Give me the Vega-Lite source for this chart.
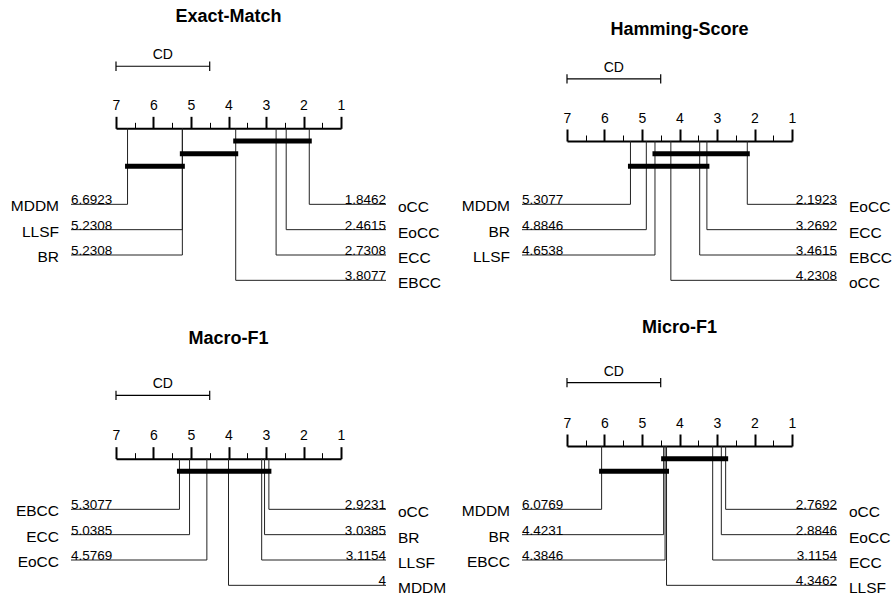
{
  "$schema": "https://vega.github.io/schema/vega-lite/v6.json",
  "background": "white",
  "padding": {"left": 10, "top": 8, "right": 0, "bottom": 0},
  "config": {
    "view": {"stroke": null},
    "font": "Liberation Sans",
    "axis": {"labelOverlap": false, "grid": false},
    "text": {"font": "Liberation Sans", "color": "#000"}
  },
  "datasets": {
    "ranks": [
      {"metric": "Exact-Match", "method": "MDDM", "rank": 6.6923, "side": "left", "row": 1},
      {"metric": "Exact-Match", "method": "LLSF", "rank": 5.2308, "side": "left", "row": 2},
      {"metric": "Exact-Match", "method": "BR", "rank": 5.2308, "side": "left", "row": 3},
      {"metric": "Exact-Match", "method": "oCC", "rank": 1.8462, "side": "right", "row": 1},
      {"metric": "Exact-Match", "method": "EoCC", "rank": 2.4615, "side": "right", "row": 2},
      {"metric": "Exact-Match", "method": "ECC", "rank": 2.7308, "side": "right", "row": 3},
      {"metric": "Exact-Match", "method": "EBCC", "rank": 3.8077, "side": "right", "row": 4},
      {"metric": "Hamming-Score", "method": "MDDM", "rank": 5.3077, "side": "left", "row": 1},
      {"metric": "Hamming-Score", "method": "BR", "rank": 4.8846, "side": "left", "row": 2},
      {"metric": "Hamming-Score", "method": "LLSF", "rank": 4.6538, "side": "left", "row": 3},
      {"metric": "Hamming-Score", "method": "EoCC", "rank": 2.1923, "side": "right", "row": 1},
      {"metric": "Hamming-Score", "method": "ECC", "rank": 3.2692, "side": "right", "row": 2},
      {"metric": "Hamming-Score", "method": "EBCC", "rank": 3.4615, "side": "right", "row": 3},
      {"metric": "Hamming-Score", "method": "oCC", "rank": 4.2308, "side": "right", "row": 4},
      {"metric": "Macro-F1", "method": "EBCC", "rank": 5.3077, "side": "left", "row": 1},
      {"metric": "Macro-F1", "method": "ECC", "rank": 5.0385, "side": "left", "row": 2},
      {"metric": "Macro-F1", "method": "EoCC", "rank": 4.5769, "side": "left", "row": 3},
      {"metric": "Macro-F1", "method": "oCC", "rank": 2.9231, "side": "right", "row": 1},
      {"metric": "Macro-F1", "method": "BR", "rank": 3.0385, "side": "right", "row": 2},
      {"metric": "Macro-F1", "method": "LLSF", "rank": 3.1154, "side": "right", "row": 3},
      {"metric": "Macro-F1", "method": "MDDM", "rank": 4, "side": "right", "row": 4},
      {"metric": "Micro-F1", "method": "MDDM", "rank": 6.0769, "side": "left", "row": 1},
      {"metric": "Micro-F1", "method": "BR", "rank": 4.4231, "side": "left", "row": 2},
      {"metric": "Micro-F1", "method": "EBCC", "rank": 4.3846, "side": "left", "row": 3},
      {"metric": "Micro-F1", "method": "oCC", "rank": 2.7692, "side": "right", "row": 1},
      {"metric": "Micro-F1", "method": "EoCC", "rank": 2.8846, "side": "right", "row": 2},
      {"metric": "Micro-F1", "method": "ECC", "rank": 3.1154, "side": "right", "row": 3},
      {"metric": "Micro-F1", "method": "LLSF", "rank": 4.3462, "side": "right", "row": 4}
    ],
    "cliques": [
      {"metric": "Exact-Match", "lo": 1.8462, "hi": 3.8077, "level": 3},
      {"metric": "Exact-Match", "lo": 3.8077, "hi": 5.2308, "level": 2},
      {"metric": "Exact-Match", "lo": 5.2308, "hi": 6.6923, "level": 1},
      {"metric": "Hamming-Score", "lo": 2.1923, "hi": 4.6538, "level": 2},
      {"metric": "Hamming-Score", "lo": 3.2692, "hi": 5.3077, "level": 1},
      {"metric": "Macro-F1", "lo": 2.9231, "hi": 5.3077, "level": 1},
      {"metric": "Micro-F1", "lo": 2.7692, "hi": 4.4231, "level": 2},
      {"metric": "Micro-F1", "lo": 4.3462, "hi": 6.0769, "level": 1}
    ],
    "critdiff": [
      {"label": "CD", "low": 4.5013, "high": 7}
    ]
  },
  "columns": 2,
  "bounds": "flush",
  "spacing": {"row": 191, "column": 226},
  "concat": [
    {
      "title": {"text": "Exact-Match", "frame": "group", "anchor": "middle", "baseline": "alphabetic", "offset": 8, "fontSize": 18, "fontWeight": "bold", "font": "Liberation Sans", "color": "#000"},
      "width": 225, "height": 114,
      "resolve": {"scale": {"y": "independent"}, "axis": {"x": "independent"}},
      "layer": [
        {
          "data": {"name": "ranks"},
          "transform": [{"filter": {"field": "metric", "equal": "Exact-Match"}}],
          "encoding": {
            "x": {"field": "rank", "type": "quantitative",
              "scale": {"domain": [1, 7], "reverse": true, "nice": false, "zero": false},
              "axis": {"orient": "top", "offset": 50.67, "title": null, "values": [1, 2, 3, 4, 5, 6, 7], "format": "d",
                "domainColor": "#000", "domainWidth": 2, "tickColor": "#000", "tickSize": 12, "tickWidth": 2,
                "labelFont": "Liberation Sans", "labelFontSize": 14, "labelColor": "#000", "labelPadding": 4, "labelFlush": false}},
            "y": {"field": "row", "type": "quantitative", "scale": {"domain": [0, 4.5], "reverse": true, "nice": false, "zero": false}, "axis": null}
          },
          "layer": [
            {"mark": {"type": "rule", "color": "#222", "strokeWidth": 1}, "encoding": {"y2": {"datum": -2.0}}},
            {"transform": [{"filter": "datum.side === 'left'"}], "mark": {"type": "rule", "color": "#222", "strokeWidth": 1}, "encoding": {"x2": {"datum": 8.2}}},
            {"transform": [{"filter": "datum.side === 'right'"}], "mark": {"type": "rule", "color": "#222", "strokeWidth": 1}, "encoding": {"x2": {"datum": -0.2}}},
            {"transform": [{"filter": "datum.side === 'left'"}], "mark": {"type": "text", "align": "left", "baseline": "alphabetic", "fontSize": 13.5}, "encoding": {"x": {"datum": 8.2}, "text": {"field": "rank", "type": "nominal"}}},
            {"transform": [{"filter": "datum.side === 'right'"}], "mark": {"type": "text", "align": "right", "baseline": "alphabetic", "fontSize": 13.5}, "encoding": {"x": {"datum": -0.2}, "text": {"field": "rank", "type": "nominal"}}},
            {"transform": [{"filter": "datum.side === 'left'"}], "mark": {"type": "text", "align": "right", "baseline": "alphabetic", "fontSize": 15.5, "dx": -12, "dy": 7}, "encoding": {"x": {"datum": 8.2}, "text": {"field": "method", "type": "nominal"}}},
            {"transform": [{"filter": "datum.side === 'right'"}], "mark": {"type": "text", "align": "left", "baseline": "alphabetic", "fontSize": 15.5, "dx": 12, "dy": 8}, "encoding": {"x": {"datum": -0.2}, "text": {"field": "method", "type": "nominal"}}}
          ]
        },
        {
          "data": {"name": "critdiff"},
          "encoding": {
            "x": {"field": "high", "type": "quantitative", "scale": {"domain": [1, 7], "reverse": true, "nice": false, "zero": false}, "axis": null}
          },
          "layer": [
            {"mark": {"type": "rule", "color": "#000", "strokeWidth": 1.2}, "encoding": {"x2": {"field": "low"}, "y": {"datum": -4.45, "type": "quantitative", "scale": {"domain": [0, 4.5], "reverse": true, "nice": false, "zero": false}, "axis": null}}},
            {"mark": {"type": "rule", "color": "#000", "strokeWidth": 1.2}, "encoding": {"y": {"datum": -4.635}, "y2": {"datum": -4.265}}},
            {"mark": {"type": "rule", "color": "#000", "strokeWidth": 1.2}, "encoding": {"x": {"field": "low", "type": "quantitative"}, "y": {"datum": -4.635}, "y2": {"datum": -4.265}}},
            {"transform": [{"fold": ["low", "high"], "as": ["end", "pos"]}, {"aggregate": [{"op": "mean", "field": "pos", "as": "mid"}], "groupby": ["label"]}],
             "mark": {"type": "text", "align": "center", "baseline": "alphabetic", "fontSize": 14}, "encoding": {"x": {"field": "mid", "type": "quantitative"}, "y": {"datum": -4.73}, "text": {"field": "label", "type": "nominal"}}}
          ]
        },
        {
          "data": {"name": "cliques"},
          "transform": [{"filter": {"field": "metric", "equal": "Exact-Match"}}],
          "mark": {"type": "rule", "color": "#000", "strokeWidth": 5, "strokeCap": "square"},
          "encoding": {
            "x": {"field": "hi", "type": "quantitative", "scale": {"domain": [1, 7], "reverse": true, "nice": false, "zero": false},
              "axis": {"orient": "top", "offset": 50.67, "title": null, "values": [1.5, 2.5, 3.5, 4.5, 5.5, 6.5], "domain": false, "labels": false,
                "tickColor": "#000", "tickSize": 6, "tickWidth": 1}},
            "x2": {"field": "lo"},
            "y": {"field": "level", "type": "quantitative", "scale": {"domain": [-9, 0], "nice": false, "zero": false}, "axis": null}
          }
        }
      ]
    },
    {
      "title": {"text": "Hamming-Score", "frame": "group", "anchor": "middle", "baseline": "alphabetic", "offset": 8, "fontSize": 18, "fontWeight": "bold", "font": "Liberation Sans", "color": "#000"},
      "width": 225, "height": 114,
      "resolve": {"scale": {"y": "independent"}, "axis": {"x": "independent"}},
      "layer": [
        {
          "data": {"name": "ranks"},
          "transform": [{"filter": {"field": "metric", "equal": "Hamming-Score"}}],
          "encoding": {
            "x": {"field": "rank", "type": "quantitative",
              "scale": {"domain": [1, 7], "reverse": true, "nice": false, "zero": false},
              "axis": {"orient": "top", "offset": 38, "title": null, "values": [1, 2, 3, 4, 5, 6, 7], "format": "d",
                "domainColor": "#000", "domainWidth": 2, "tickColor": "#000", "tickSize": 12, "tickWidth": 2,
                "labelFont": "Liberation Sans", "labelFontSize": 14, "labelColor": "#000", "labelPadding": 4, "labelFlush": false}},
            "y": {"field": "row", "type": "quantitative", "scale": {"domain": [0, 4.5], "reverse": true, "nice": false, "zero": false}, "axis": null}
          },
          "layer": [
            {"mark": {"type": "rule", "color": "#222", "strokeWidth": 1}, "encoding": {"y2": {"datum": -1.5}}},
            {"transform": [{"filter": "datum.side === 'left'"}], "mark": {"type": "rule", "color": "#222", "strokeWidth": 1}, "encoding": {"x2": {"datum": 8.2}}},
            {"transform": [{"filter": "datum.side === 'right'"}], "mark": {"type": "rule", "color": "#222", "strokeWidth": 1}, "encoding": {"x2": {"datum": -0.2}}},
            {"transform": [{"filter": "datum.side === 'left'"}], "mark": {"type": "text", "align": "left", "baseline": "alphabetic", "fontSize": 13.5}, "encoding": {"x": {"datum": 8.2}, "text": {"field": "rank", "type": "nominal"}}},
            {"transform": [{"filter": "datum.side === 'right'"}], "mark": {"type": "text", "align": "right", "baseline": "alphabetic", "fontSize": 13.5}, "encoding": {"x": {"datum": -0.2}, "text": {"field": "rank", "type": "nominal"}}},
            {"transform": [{"filter": "datum.side === 'left'"}], "mark": {"type": "text", "align": "right", "baseline": "alphabetic", "fontSize": 15.5, "dx": -12, "dy": 7}, "encoding": {"x": {"datum": 8.2}, "text": {"field": "method", "type": "nominal"}}},
            {"transform": [{"filter": "datum.side === 'right'"}], "mark": {"type": "text", "align": "left", "baseline": "alphabetic", "fontSize": 15.5, "dx": 12, "dy": 8}, "encoding": {"x": {"datum": -0.2}, "text": {"field": "method", "type": "nominal"}}}
          ]
        },
        {
          "data": {"name": "critdiff"},
          "encoding": {
            "x": {"field": "high", "type": "quantitative", "scale": {"domain": [1, 7], "reverse": true, "nice": false, "zero": false}, "axis": null}
          },
          "layer": [
            {"mark": {"type": "rule", "color": "#000", "strokeWidth": 1.2}, "encoding": {"x2": {"field": "low"}, "y": {"datum": -3.95, "type": "quantitative", "scale": {"domain": [0, 4.5], "reverse": true, "nice": false, "zero": false}, "axis": null}}},
            {"mark": {"type": "rule", "color": "#000", "strokeWidth": 1.2}, "encoding": {"y": {"datum": -4.135}, "y2": {"datum": -3.765}}},
            {"mark": {"type": "rule", "color": "#000", "strokeWidth": 1.2}, "encoding": {"x": {"field": "low", "type": "quantitative"}, "y": {"datum": -4.135}, "y2": {"datum": -3.765}}},
            {"transform": [{"fold": ["low", "high"], "as": ["end", "pos"]}, {"aggregate": [{"op": "mean", "field": "pos", "as": "mid"}], "groupby": ["label"]}],
             "mark": {"type": "text", "align": "center", "baseline": "alphabetic", "fontSize": 14}, "encoding": {"x": {"field": "mid", "type": "quantitative"}, "y": {"datum": -4.23}, "text": {"field": "label", "type": "nominal"}}}
          ]
        },
        {
          "data": {"name": "cliques"},
          "transform": [{"filter": {"field": "metric", "equal": "Hamming-Score"}}],
          "mark": {"type": "rule", "color": "#000", "strokeWidth": 5, "strokeCap": "square"},
          "encoding": {
            "x": {"field": "hi", "type": "quantitative", "scale": {"domain": [1, 7], "reverse": true, "nice": false, "zero": false},
              "axis": {"orient": "top", "offset": 38, "title": null, "values": [1.5, 2.5, 3.5, 4.5, 5.5, 6.5], "domain": false, "labels": false,
                "tickColor": "#000", "tickSize": 6, "tickWidth": 1}},
            "x2": {"field": "lo"},
            "y": {"field": "level", "type": "quantitative", "scale": {"domain": [-9, 0], "nice": false, "zero": false}, "axis": null}
          }
        }
      ]
    },
    {
      "title": {"text": "Macro-F1", "frame": "group", "anchor": "middle", "baseline": "alphabetic", "offset": 15, "fontSize": 18, "fontWeight": "bold", "font": "Liberation Sans", "color": "#000"},
      "width": 225, "height": 114,
      "resolve": {"scale": {"y": "independent"}, "axis": {"x": "independent"}},
      "layer": [
        {
          "data": {"name": "ranks"},
          "transform": [{"filter": {"field": "metric", "equal": "Macro-F1"}}],
          "encoding": {
            "x": {"field": "rank", "type": "quantitative",
              "scale": {"domain": [1, 7], "reverse": true, "nice": false, "zero": false},
              "axis": {"orient": "top", "offset": 25.33, "title": null, "values": [1, 2, 3, 4, 5, 6, 7], "format": "d",
                "domainColor": "#000", "domainWidth": 2, "tickColor": "#000", "tickSize": 12, "tickWidth": 2,
                "labelFont": "Liberation Sans", "labelFontSize": 14, "labelColor": "#000", "labelPadding": 4, "labelFlush": false}},
            "y": {"field": "row", "type": "quantitative", "scale": {"domain": [0, 4.5], "reverse": true, "nice": false, "zero": false}, "axis": null}
          },
          "layer": [
            {"mark": {"type": "rule", "color": "#222", "strokeWidth": 1}, "encoding": {"y2": {"datum": -1.0}}},
            {"transform": [{"filter": "datum.side === 'left'"}], "mark": {"type": "rule", "color": "#222", "strokeWidth": 1}, "encoding": {"x2": {"datum": 8.2}}},
            {"transform": [{"filter": "datum.side === 'right'"}], "mark": {"type": "rule", "color": "#222", "strokeWidth": 1}, "encoding": {"x2": {"datum": -0.2}}},
            {"transform": [{"filter": "datum.side === 'left'"}], "mark": {"type": "text", "align": "left", "baseline": "alphabetic", "fontSize": 13.5}, "encoding": {"x": {"datum": 8.2}, "text": {"field": "rank", "type": "nominal"}}},
            {"transform": [{"filter": "datum.side === 'right'"}], "mark": {"type": "text", "align": "right", "baseline": "alphabetic", "fontSize": 13.5}, "encoding": {"x": {"datum": -0.2}, "text": {"field": "rank", "type": "nominal"}}},
            {"transform": [{"filter": "datum.side === 'left'"}], "mark": {"type": "text", "align": "right", "baseline": "alphabetic", "fontSize": 15.5, "dx": -12, "dy": 7}, "encoding": {"x": {"datum": 8.2}, "text": {"field": "method", "type": "nominal"}}},
            {"transform": [{"filter": "datum.side === 'right'"}], "mark": {"type": "text", "align": "left", "baseline": "alphabetic", "fontSize": 15.5, "dx": 12, "dy": 8}, "encoding": {"x": {"datum": -0.2}, "text": {"field": "method", "type": "nominal"}}}
          ]
        },
        {
          "data": {"name": "critdiff"},
          "encoding": {
            "x": {"field": "high", "type": "quantitative", "scale": {"domain": [1, 7], "reverse": true, "nice": false, "zero": false}, "axis": null}
          },
          "layer": [
            {"mark": {"type": "rule", "color": "#000", "strokeWidth": 1.2}, "encoding": {"x2": {"field": "low"}, "y": {"datum": -3.5, "type": "quantitative", "scale": {"domain": [0, 4.5], "reverse": true, "nice": false, "zero": false}, "axis": null}}},
            {"mark": {"type": "rule", "color": "#000", "strokeWidth": 1.2}, "encoding": {"y": {"datum": -3.685}, "y2": {"datum": -3.315}}},
            {"mark": {"type": "rule", "color": "#000", "strokeWidth": 1.2}, "encoding": {"x": {"field": "low", "type": "quantitative"}, "y": {"datum": -3.685}, "y2": {"datum": -3.315}}},
            {"transform": [{"fold": ["low", "high"], "as": ["end", "pos"]}, {"aggregate": [{"op": "mean", "field": "pos", "as": "mid"}], "groupby": ["label"]}],
             "mark": {"type": "text", "align": "center", "baseline": "alphabetic", "fontSize": 14}, "encoding": {"x": {"field": "mid", "type": "quantitative"}, "y": {"datum": -3.78}, "text": {"field": "label", "type": "nominal"}}}
          ]
        },
        {
          "data": {"name": "cliques"},
          "transform": [{"filter": {"field": "metric", "equal": "Macro-F1"}}],
          "mark": {"type": "rule", "color": "#000", "strokeWidth": 5, "strokeCap": "square"},
          "encoding": {
            "x": {"field": "hi", "type": "quantitative", "scale": {"domain": [1, 7], "reverse": true, "nice": false, "zero": false},
              "axis": {"orient": "top", "offset": 25.33, "title": null, "values": [1.5, 2.5, 3.5, 4.5, 5.5, 6.5], "domain": false, "labels": false,
                "tickColor": "#000", "tickSize": 6, "tickWidth": 1}},
            "x2": {"field": "lo"},
            "y": {"field": "level", "type": "quantitative", "scale": {"domain": [-9, 0], "nice": false, "zero": false}, "axis": null}
          }
        }
      ]
    },
    {
      "title": {"text": "Micro-F1", "frame": "group", "anchor": "middle", "baseline": "alphabetic", "offset": 14, "fontSize": 18, "fontWeight": "bold", "font": "Liberation Sans", "color": "#000"},
      "width": 225, "height": 114,
      "resolve": {"scale": {"y": "independent"}, "axis": {"x": "independent"}},
      "layer": [
        {
          "data": {"name": "ranks"},
          "transform": [{"filter": {"field": "metric", "equal": "Micro-F1"}}],
          "encoding": {
            "x": {"field": "rank", "type": "quantitative",
              "scale": {"domain": [1, 7], "reverse": true, "nice": false, "zero": false},
              "axis": {"orient": "top", "offset": 38, "title": null, "values": [1, 2, 3, 4, 5, 6, 7], "format": "d",
                "domainColor": "#000", "domainWidth": 2, "tickColor": "#000", "tickSize": 12, "tickWidth": 2,
                "labelFont": "Liberation Sans", "labelFontSize": 14, "labelColor": "#000", "labelPadding": 4, "labelFlush": false}},
            "y": {"field": "row", "type": "quantitative", "scale": {"domain": [0, 4.5], "reverse": true, "nice": false, "zero": false}, "axis": null}
          },
          "layer": [
            {"mark": {"type": "rule", "color": "#222", "strokeWidth": 1}, "encoding": {"y2": {"datum": -1.5}}},
            {"transform": [{"filter": "datum.side === 'left'"}], "mark": {"type": "rule", "color": "#222", "strokeWidth": 1}, "encoding": {"x2": {"datum": 8.2}}},
            {"transform": [{"filter": "datum.side === 'right'"}], "mark": {"type": "rule", "color": "#222", "strokeWidth": 1}, "encoding": {"x2": {"datum": -0.2}}},
            {"transform": [{"filter": "datum.side === 'left'"}], "mark": {"type": "text", "align": "left", "baseline": "alphabetic", "fontSize": 13.5}, "encoding": {"x": {"datum": 8.2}, "text": {"field": "rank", "type": "nominal"}}},
            {"transform": [{"filter": "datum.side === 'right'"}], "mark": {"type": "text", "align": "right", "baseline": "alphabetic", "fontSize": 13.5}, "encoding": {"x": {"datum": -0.2}, "text": {"field": "rank", "type": "nominal"}}},
            {"transform": [{"filter": "datum.side === 'left'"}], "mark": {"type": "text", "align": "right", "baseline": "alphabetic", "fontSize": 15.5, "dx": -12, "dy": 7}, "encoding": {"x": {"datum": 8.2}, "text": {"field": "method", "type": "nominal"}}},
            {"transform": [{"filter": "datum.side === 'right'"}], "mark": {"type": "text", "align": "left", "baseline": "alphabetic", "fontSize": 15.5, "dx": 12, "dy": 8}, "encoding": {"x": {"datum": -0.2}, "text": {"field": "method", "type": "nominal"}}}
          ]
        },
        {
          "data": {"name": "critdiff"},
          "encoding": {
            "x": {"field": "high", "type": "quantitative", "scale": {"domain": [1, 7], "reverse": true, "nice": false, "zero": false}, "axis": null}
          },
          "layer": [
            {"mark": {"type": "rule", "color": "#000", "strokeWidth": 1.2}, "encoding": {"x2": {"field": "low"}, "y": {"datum": -4.0, "type": "quantitative", "scale": {"domain": [0, 4.5], "reverse": true, "nice": false, "zero": false}, "axis": null}}},
            {"mark": {"type": "rule", "color": "#000", "strokeWidth": 1.2}, "encoding": {"y": {"datum": -4.185}, "y2": {"datum": -3.815}}},
            {"mark": {"type": "rule", "color": "#000", "strokeWidth": 1.2}, "encoding": {"x": {"field": "low", "type": "quantitative"}, "y": {"datum": -4.185}, "y2": {"datum": -3.815}}},
            {"transform": [{"fold": ["low", "high"], "as": ["end", "pos"]}, {"aggregate": [{"op": "mean", "field": "pos", "as": "mid"}], "groupby": ["label"]}],
             "mark": {"type": "text", "align": "center", "baseline": "alphabetic", "fontSize": 14}, "encoding": {"x": {"field": "mid", "type": "quantitative"}, "y": {"datum": -4.28}, "text": {"field": "label", "type": "nominal"}}}
          ]
        },
        {
          "data": {"name": "cliques"},
          "transform": [{"filter": {"field": "metric", "equal": "Micro-F1"}}],
          "mark": {"type": "rule", "color": "#000", "strokeWidth": 5, "strokeCap": "square"},
          "encoding": {
            "x": {"field": "hi", "type": "quantitative", "scale": {"domain": [1, 7], "reverse": true, "nice": false, "zero": false},
              "axis": {"orient": "top", "offset": 38, "title": null, "values": [1.5, 2.5, 3.5, 4.5, 5.5, 6.5], "domain": false, "labels": false,
                "tickColor": "#000", "tickSize": 6, "tickWidth": 1}},
            "x2": {"field": "lo"},
            "y": {"field": "level", "type": "quantitative", "scale": {"domain": [-9, 0], "nice": false, "zero": false}, "axis": null}
          }
        }
      ]
    }
  ]
}
